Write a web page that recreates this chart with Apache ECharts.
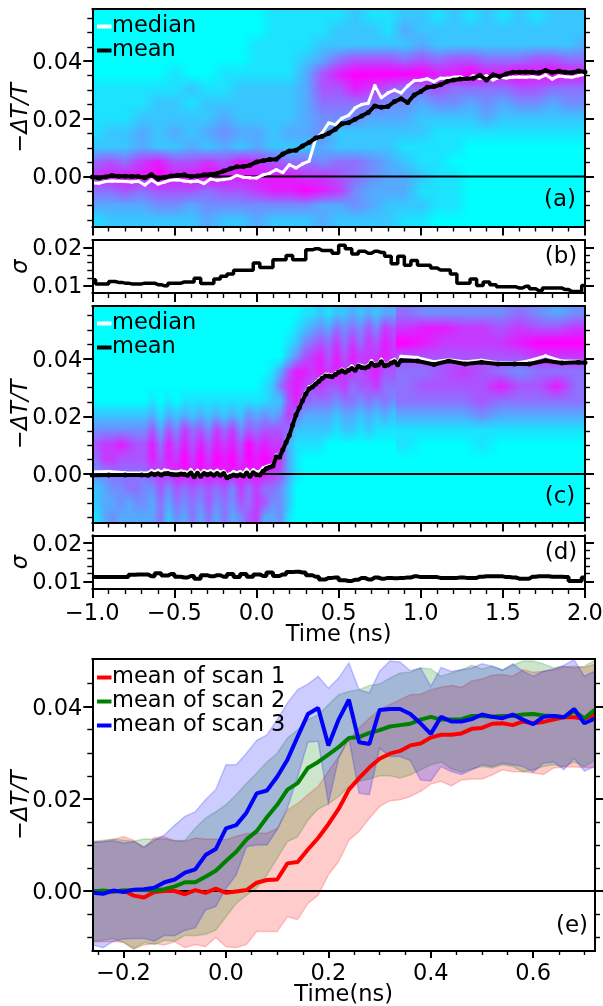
<!DOCTYPE html>
<html><head><meta charset="utf-8">
<style>html,body{margin:0;padding:0;background:#fff}#c{width:603px;height:1006px}</style>
<script src="https://cdn.jsdelivr.net/npm/echarts@6/dist/echarts.min.js"></script>
</head><body><div id="c"></div>
<script>
// ---- values (all ΔT/T and sigma values are in units of 1e-3) ----
const timeA=[-1,-.96,-.92,-.88,-.84,-.8,-.76,-.72,-.68,-.64,-.6,-.56,-.52,-.48,-.44,-.4,-.36,-.32,-.28,-.24,-.2,-.16,-.12,-.08,-.04,0,.04,.08,.12,.16,.2,.24,.28,.32,.36,.4,.44,.48,.52,.56,.6,.64,.68,.72,.76,.8,.84,.88,.92,.96,1,1.04,1.08,1.12,1.16,1.2,1.24,1.28,1.32,1.36,1.4,1.44,1.48,1.52,1.56,1.6,1.64,1.68,1.72,1.76,1.8,1.84,1.88,1.92,1.96,2];
const meanA=[-.1,-.5,-.1,.4,.1,.1,0,0,-.4,.7,-.8,-.2,.2,.5,.6,0,.2,.6,.8,1.1,1.9,2.7,3.4,3.5,3.9,5.1,5.5,5.9,6,7.8,8.9,9.1,10.6,11.8,13.4,14,15,16.4,18.3,18.7,19.9,21,22.2,24.5,24,24.3,26,27,25.7,28.3,29.5,31,31.2,31.8,33,33.5,33.8,33.9,34.1,35.1,33.5,35.3,34.7,35.6,36.2,36.2,36.3,36.2,36,36.8,36.1,36.5,36.2,36,36.6,36.3];
const medianA=[-2.2,-2.3,-1.7,-1.5,-1.6,-1.7,-1.9,-1.6,-2.9,-1.2,-2.6,-1.9,-1.2,-1.1,-1.5,-1.8,-1.5,-2.4,-.8,-1.3,-1,-.7,.4,-.2,-.4,-.5,.6,1.2,2.4,1.4,4.1,3,4.4,5.4,13,15.2,18.6,18,20.2,21.2,23.8,25,25.4,31.6,27.3,29,30,29,31.4,33.3,33.4,33.9,32.9,34.1,34.1,34.4,34.6,33.6,35,34,35,33.5,34.4,34.2,34.4,34.5,34.4,34.6,34.2,35.2,33.8,34.9,34.6,34.4,35,35.4];
const sigmaB=[11.5,10.4,10.4,11.05,10.8,10.6,10.4,10.4,10.6,10.6,10.2,9.9,10.6,10.6,10.9,10.9,11.9,10.5,10.5,11.7,12.4,13,14,14,14,15.9,14.75,14.75,16.8,16.8,17.9,16.8,16.8,19.4,19.7,19.2,19.2,18.5,20.6,19.7,18.3,19,18.5,19,18.7,17.7,15.7,17.7,15.3,16.6,15.3,15.3,14.6,14.1,14.1,13,10.6,10.6,11.7,10,10.9,10.2,9.65,9.65,9.65,9.3,9.8,9.1,8.6,9.3,9.3,9.3,8.9,8.4,8.4,10];
const sigmaD=[11.1,11.1,11.1,11.1,11.1,11.1,11.7,11.8,11.8,11.3,12.1,11.5,11.9,11.2,11,11.4,10.7,11.6,11.3,11.6,11.2,11.9,11.1,11.9,11.2,11.8,11.4,12.3,11.4,11.8,12.4,12.5,12.3,11.6,11.2,10.5,10.9,11,10.3,10.1,10.4,10.9,10.5,11,10.7,10.9,10.8,10.9,11,11.3,11.1,11.1,11.1,10.9,10.9,10.9,11,10.9,10.9,11.2,11.3,11.3,11.3,11.1,11,10.7,10.7,11.2,11.3,11.3,11.2,11.2,11.1,10.1,10.1,11];
const timeC=[-1,-.9,-.8,-.7,-.66,-.64,-.62,-.6,-.58,-.56,-.54,-.52,-.5,-.48,-.46,-.44,-.42,-.4,-.38,-.36,-.34,-.32,-.3,-.28,-.26,-.24,-.22,-.2,-.18,-.16,-.14,-.12,-.1,-.08,-.06,-.04,-.02,0,.02,.04,.06,.08,.1,.12,.14,.16,.18,.2,.22,.24,.26,.28,.3,.32,.34,.36,.38,.4,.42,.44,.46,.48,.5,.52,.54,.56,.58,.6,.62,.64,.66,.68,.7,.72,.74,.76,.78,.8,.82,.84,.86,.88,.98,1.08,1.17,1.27,1.37,1.47,1.57,1.66,1.76,1.86,1.96,2];
const meanC=[-.4,-.3,-.3,-.3,-.4,.1,-.2,.1,-.3,.1,.2,-.1,-.2,-.2,0,-.1,-.4,.4,-.9,.3,-.8,.2,-.2,.1,-.4,.2,-.4,.2,-1.3,-.8,-.3,-.6,-.2,-.7,.4,-.8,.5,-.2,-.3,1,1.9,2.4,2.8,6,5.8,8.4,11,13.5,17,20.5,23,25.5,27.8,29.6,30.2,31.2,32.2,33.2,34,34,33.8,34.5,35.3,35.8,35.3,36,36.6,36,37.5,37,36.8,37.2,38.4,37.7,37.8,39,37.6,37.8,38.5,39,37.9,39.4,39.2,38,39.2,38.2,38.8,38.2,38.2,38.2,39.3,38.5,38.8,38.7];
const medianC=[.7,.9,.5,.4,.4,1.2,.8,1.3,.7,1.4,1.2,.9,.7,.8,1.1,.9,.5,1.6,.2,1.3,.2,1.2,.8,1.2,.6,1.3,.6,1,-.3,.1,.9,.4,.9,.2,1.7,.2,1.5,.8,1,2.2,2.6,3,3.2,6.6,5.6,8.2,11.3,13.8,17.2,20.8,23.4,26,28.4,30.3,30.6,31.8,32.9,33.8,34.6,34.6,34.2,35,35.6,36.4,35.7,36.5,37.5,36.3,38,37.6,37.3,37.8,39.3,38,38.2,39.8,38,38.2,39.2,39.8,38.3,40.9,40.4,39,39.7,39,39.5,38.6,38.4,39.3,41,39.2,39.1,39];
const timeE=[-.26,-.24,-.22,-.2,-.18,-.16,-.14,-.12,-.1,-.08,-.06,-.04,-.02,0,.02,.04,.06,.08,.1,.12,.14,.16,.18,.2,.22,.24,.26,.28,.3,.32,.34,.36,.38,.4,.42,.44,.46,.48,.5,.52,.54,.56,.58,.6,.62,.64,.66,.68,.7,.72];
const scan1=[0,0,-.1,.1,-1,-1.4,-.2,0,0,-.7,.2,-.4,.5,-.4,-.1,.2,1.8,2.4,2.5,6,6.3,9,11.5,14.5,17.8,22,24.5,26.8,28.7,29.8,30.4,31.6,32,33.3,33.9,33.9,34.2,35.2,35.4,36.3,36.4,36,36.8,36.4,36.7,37.2,37.7,37.7,37.4,38.3];
const scan2=[-.1,.1,-.1,.1,.2,.2,.1,.4,1,1.9,1.9,3.1,4.4,6.5,8.5,11.2,13,16,18.7,22,23.4,26.7,28,29.6,31.2,33.2,33.4,34.3,34.9,35.7,36,36.3,37.2,37.8,37.2,37.2,37.3,38,38,37.8,38,38,38.3,38.4,38.1,38,37.7,39,37.5,39.3];
const scan3=[-.4,-.6,.1,-.2,.3,.4,.7,1.9,2.5,4,4.7,7.8,9.1,13.6,14.3,17,21.2,21.8,24.8,28.5,33.5,38.4,39.7,31.6,37.2,41.5,32.3,31.9,39.3,39.5,39.5,38.4,36.4,34.1,37.8,36.8,36.8,37.3,38.3,37.8,37.5,38.3,37.2,36.2,37.8,38,37.7,39.5,36.4,37.4];
const upper1=[10.6,10.8,11.2,11.8,11,9.3,11.6,11.7,10.9,10.8,11.5,11.3,11.3,11.1,11.9,12.5,12.5,12.6,13.5,17.6,19,20.9,22.7,26,29.2,32.8,35.4,37.5,39.3,40.5,41.5,42.6,42.7,43.7,44.2,44.6,44.2,45.6,46,46.8,47,46.6,48,47.5,47.7,48,48.6,48.8,48.5,49.2];
const lower1=[-11,-11,-11,-11.1,-12.5,-11.7,-11.4,-11.7,-11,-12.3,-11.6,-12.1,-10.1,-12.1,-12.3,-11.6,-8.8,-8.8,-8.8,-5.6,-6.2,-2.7,-.9,3.5,6.4,11,12.9,15.8,18.3,19.6,19.8,20.5,21.6,23.2,23.8,22.8,24.1,24.3,24.3,25.2,26.3,25.9,25.9,25.6,25.3,26.7,26.9,26.9,26.8,26.8];
const upper2=[10.8,11,11.3,11,10.8,11.3,11.3,11.3,10.9,11,13.6,15.8,17.2,18.7,20.9,23.4,25.6,28,29.9,33.2,35,37.2,38.2,40.4,42.6,43.3,43.7,44.6,44.9,46.2,47.3,47.5,48.4,48.2,46.6,47.3,48,49,48.2,48.8,48,49,49.9,49.9,49.3,48.4,48.8,48.4,48.8,50];
const lower2=[-11,-10.7,-10.3,-11.2,-12.6,-11.2,-11.6,-10.7,-10.9,-9.6,-9.7,-9.4,-8.5,-5.6,-2.7,-.9,.6,3.5,7.1,10.7,11.8,15.4,17.8,18.9,20.5,22.7,23.8,24.3,25,25,24.5,25.2,26.3,27.4,28,26.5,25.8,26.5,27,26.7,27.4,27,25.9,26.3,27,27.4,27,28,27,28.3];
const upper3=[10.6,10.7,10.9,10.4,10.7,9.6,11,12.2,14.3,16.2,17.2,19.8,22,27.4,27.4,29.9,32.7,33.9,37.2,40.8,43.7,44.9,46.6,44,46.2,49.5,43.7,43,47.7,49.9,49.7,47.8,48.4,44.4,48.5,47.7,48,48.4,49.3,48.8,47.9,49.3,47.7,46.6,47.7,48.2,49,50.2,46.6,47.7];
const lower3=[-11.7,-12.3,-10.9,-10.4,-10.3,-10.3,-10.9,-9.6,-9.7,-8.5,-8,-4.1,-3.4,.6,3.5,9.6,10,10,13.3,18,24.8,32.3,32.5,19,28.8,33.2,21.2,20.9,31,29.2,29.2,28.3,24.1,23.9,27,25.9,25.3,26.3,27.4,27,27.7,27.4,27,25.8,27.7,28,26.3,28.8,26,27];
// heat grids: level 0 (cyan) to 9 (magenta); rows top to bottom
const heatA=[
[0,0,0,0,0,0,0,0,0,0,0,1,1,1,1,1,2,1,1,2,2,1,2,1,2,1,2,1,2,2,2],
[0,0,0,0,0,0,0,0,0,0,0,1,1,1,1,2,2,2,1,3,2,2,2,2,2,2,2,2,2,2,2],
[0,0,0,0,0,0,0,0,0,0,1,1,1,1,2,2,2,2,2,2,3,2,2,2,2,2,2,2,2,2,3],
[0,0,0,0,0,0,0,0,0,0,1,1,1,2,3,5,6,6,6,5,6,5,6,6,5,5,5,6,6,5,5],
[0,0,0,0,0,1,0,0,1,1,1,1,1,3,6,8,9,9,9,9,9,8,8,9,8,8,9,8,9,8,8],
[1,1,1,1,1,1,2,1,1,2,2,2,2,3,6,6,8,7,6,5,5,6,5,5,5,5,6,6,5,5,5],
[1,1,1,1,2,2,1,2,2,2,2,2,2,3,5,5,5,5,4,4,3,4,4,3,4,3,4,4,3,4,4],
[1,1,1,2,2,2,2,2,3,2,2,2,2,3,4,4,4,3,3,3,2,2,2,2,3,2,2,2,2,2,2],
[1,2,2,3,2,3,2,3,4,3,3,2,3,3,4,2,2,2,2,2,2,1,1,1,1,1,1,1,1,1,1],
[2,2,2,3,2,2,3,2,3,2,3,2,2,2,3,2,2,2,2,1,1,1,1,0,0,0,0,0,0,0,0],
[5,6,5,7,8,6,6,7,6,8,7,6,5,5,4,5,5,4,3,2,1,1,0,0,0,0,0,0,0,0,0],
[7,8,8,8,9,8,8,9,8,8,8,8,8,7,7,6,5,4,3,3,2,1,1,0,0,0,0,0,0,0,0],
[5,5,6,5,6,6,6,5,6,6,7,8,8,9,8,7,4,3,3,3,1,1,1,0,0,0,0,0,0,0,0],
[3,3,3,3,4,4,3,4,4,4,4,4,4,4,3,3,4,3,2,2,2,1,1,0,0,0,0,0,0,0,0],
[1,2,2,2,2,2,2,3,2,2,3,2,2,2,3,2,2,2,2,1,1,0,0,0,0,0,0,0,0,0,0]];
const heatCLeft=[
[0,0,0,0,0,0,0,0,0,0,0,0,0,0,0,0,0,0,0,0,0,0,0,0,0,0,1,1,2,1,2,2,3,2,3,2,3,3],
[0,0,0,0,0,0,0,0,0,0,0,0,0,0,0,0,0,0,0,0,0,0,0,0,0,1,2,3,4,3,5,4,5,4,6,4,7,6],
[0,0,0,0,0,0,0,0,0,0,0,0,0,0,0,0,0,0,0,0,0,0,0,0,1,2,4,5,6,5,7,5,7,5,7,6,8,7],
[0,0,0,0,0,0,0,0,0,0,0,0,0,0,0,0,0,0,0,0,0,0,0,0,2,4,6,7,8,6,8,6,8,7,7,7,8,7],
[0,0,0,0,0,0,0,0,0,0,0,0,0,0,0,0,0,0,0,0,0,0,1,3,6,8,8,7,8,7,8,7,7,6,7,8,6,6],
[0,0,0,0,0,0,0,0,0,0,0,0,0,0,0,0,0,0,0,0,0,1,2,5,7,8,7,6,7,6,6,7,5,6,6,7,5,5],
[0,0,0,0,0,0,0,1,0,1,0,1,1,1,1,1,1,1,1,1,1,1,2,2,6,8,6,5,5,5,4,5,5,4,5,4,5,4],
[2,2,2,2,2,2,2,3,1,3,2,3,2,3,2,3,2,3,2,4,3,4,3,4,7,5,3,3,3,3,2,3,3,2,3,2,3,2],
[4,4,4,4,4,4,4,6,3,6,4,7,5,6,4,7,5,7,4,6,5,6,6,6,5,2,2,2,2,2,1,2,2,1,2,1,1,1],
[6,7,7,8,7,6,6,8,5,8,6,8,6,8,6,8,7,8,6,9,7,8,7,7,3,1,1,1,1,0,0,0,0,0,0,0,0,0],
[5,7,7,6,6,6,6,8,6,8,7,9,7,9,7,9,8,9,7,9,8,9,8,7,3,1,0,0,0,0,0,0,0,0,0,0,0,0],
[4,4,5,5,5,5,5,6,7,7,8,8,8,8,8,8,8,8,8,8,8,8,7,6,3,1,0,0,0,0,0,0,0,0,0,0,0,0],
[2,3,4,4,5,5,4,4,6,4,6,5,6,5,6,5,6,4,7,5,7,5,5,4,2,0,0,0,0,0,0,0,0,0,0,0,0,0],
[2,3,3,4,3,4,4,3,5,3,5,4,5,4,6,4,5,4,6,5,7,6,4,4,2,0,0,0,0,0,0,0,0,0,0,0,0,0],
[1,3,4,3,3,3,3,3,5,2,4,3,5,3,5,3,5,3,4,6,7,3,3,4,1,0,0,0,0,0,0,0,0,0,0,0,0,0]];
const heatCRight=[
[5,4,4,4,4,4,5,4,3,4],
[7,8,8,7,7,6,7,6,6,7],
[9,8,7,7,7,7,8,9,9,9],
[6,6,6,6,6,6,6,7,7,7],
[5,5,6,7,6,5,4,5,5,5],
[5,6,6,6,6,8,6,6,8,5],
[5,5,5,5,6,5,5,5,5,5],
[3,3,3,3,4,3,3,3,3,3],
[1,1,1,1,1,1,1,1,1,1],
[1,0,0,0,1,0,0,0,0,0],
[0,0,0,0,0,0,0,0,0,0],
[0,0,0,0,0,0,0,0,0,0],
[0,0,0,0,0,0,0,0,0,0],
[0,0,0,0,0,0,0,0,0,0],
[0,0,0,0,0,0,0,0,0,0]];
const heatRangeY=[-.0175,.0585];
const xTicksTop=[-1,-.5,0,.5,1,1.5,2];
const xMinorTop=[-.9,-.8,-.7,-.6,-.4,-.3,-.2,-.1,.1,.2,.3,.4,.6,.7,.8,.9,1.1,1.2,1.3,1.4,1.6,1.7,1.8,1.9];
const xTicksE=[-.2,0,.2,.4,.6];
const xMinorE=[-.25,-.15,-.1,-.05,.05,.1,.15,.25,.3,.35,.45,.5,.55,.65,.7];
const yTicksHeat=[0,.02,.04];
const yMinorHeat=[-.015,-.01,-.005,.005,.01,.015,.025,.03,.035,.045,.05,.055];
const yTicksSigma=[.01,.02];
const yMinorSigma=[.012,.014,.016,.018];
const yTicksE=[0,.02,.04];
const yMinorE=[-.01,-.005,.005,.01,.015,.025,.03,.035,.045];

// ---- helpers ----
const FONT='DejaVu Sans',FS=22.5;
const pairs=(x,y)=>x.map((t,i)=>[t,y[i]*1e-3]);
const fmtNum=(n,d)=>v=>(v<-1e-9?'\u2212':'')+Math.abs(v).toFixed(d);
function heatCanvas(rows){
  const h=rows.length,w=rows[0].length,cv=document.createElement('canvas');
  cv.width=w;cv.height=h;const ctx=cv.getContext('2d'),im=ctx.createImageData(w,h);
  rows.forEach((r,j)=>r.forEach((v,i)=>{const t=v/9,k=4*(j*w+i);
    im.data[k]=255*t;im.data[k+1]=255*(1-t);im.data[k+2]=255;im.data[k+3]=255;}));
  ctx.putImageData(im,0,0);return cv;
}
const grid=[],xAxis=[],yAxis=[],series=[];
function panel(r,xr,yr,xT,xM,yT,yM,opt){
  const g=grid.length;grid.push({left:r[0],top:r[1],width:r[2]-r[0],height:r[3]-r[1],containLabel:false,outerBoundsMode:'none'});
  const xi=xAxis.length,yi=yAxis.length;
  const hidden={axisLine:{show:false,onZero:false},axisTick:{show:false},axisLabel:{show:false}};
  const baseX={type:'value',gridIndex:g,min:xr[0],max:xr[1],z:10,splitLine:{show:false},...hidden};
  const spine={show:true,onZero:false,lineStyle:{color:'#000',width:2}};
  xAxis.push({...baseX,position:'bottom',axisLine:spine,
    axisTick:{show:true,customValues:xT,length:opt.xMajLen||9,lineStyle:{color:'#000',width:2}},
    axisLabel:{show:!!opt.xFmt,customValues:xT,formatter:opt.xFmt,margin:opt.xMargin||14,fontSize:FS,fontFamily:FONT,color:'#000'},
    name:opt.xName||'',nameLocation:'middle',nameGap:opt.xNameGap||42,nameMoveOverlap:false,nameTextStyle:{fontSize:FS,fontFamily:FONT,color:'#000'}});
  xAxis.push({...baseX,position:'bottom',axisTick:{show:true,customValues:xM,length:opt.xMinLen||5,lineStyle:{color:'#000',width:1.4}}});
  xAxis.push({...baseX,position:'top',axisLine:spine});
  const baseY={type:'value',gridIndex:g,min:yr[0],max:yr[1],z:10,splitLine:{show:false},...hidden};
  yAxis.push({...baseY,position:'left',axisLine:spine,
    axisTick:{show:true,customValues:yT,length:9,lineStyle:{color:'#000',width:2}},
    axisLabel:{show:true,customValues:yT,formatter:v=>'{n|'+opt.yFmt(v)+'}',margin:10,rich:{n:{fontSize:FS,fontFamily:FONT,color:'#000',padding:[4,0,0,0]}}},
    name:opt.yName,nameLocation:'middle',nameGap:opt.yGap,nameRotate:90,nameMoveOverlap:false,
    nameTextStyle:{fontSize:FS,fontFamily:FONT,color:'#000',rich:{m:{fontSize:FS,fontFamily:FONT,color:'#000'},i:{fontSize:FS,fontFamily:FONT,fontStyle:'italic',color:'#000'}}}});
  yAxis.push({...baseY,position:'left',axisTick:{show:true,customValues:yM,length:5,lineStyle:{color:'#000',width:1.4}}});
  yAxis.push({...baseY,position:'right',axisLine:spine,
    axisTick:{show:true,customValues:yT,length:9,lineStyle:{color:'#000',width:2}}});
  yAxis.push({...baseY,position:'right',axisTick:{show:true,customValues:yM,length:5,lineStyle:{color:'#000',width:1.4}}});
  return {xi,yi};
}
function heatSeries(ax,rows,x0,x1){
  const cv=heatCanvas(rows);
  series.push({type:'custom',xAxisIndex:ax.xi,yAxisIndex:ax.yi,clip:true,silent:true,z:1,
    data:[[x0,x1,heatRangeY[0],heatRangeY[1]]],encode:{x:[0,1],y:[2,3]},
    renderItem:(p,api)=>{const a=api.coord([api.value(0),api.value(3)]),b=api.coord([api.value(1),api.value(2)]);
      return {type:'image',style:{image:cv,x:a[0],y:a[1],width:b[0]-a[0],height:b[1]-a[1]}};}});
}
function zeroLine(ax,xr){
  series.push({type:'line',name:'zero',xAxisIndex:ax.xi,yAxisIndex:ax.yi,data:[[xr[0],0],[xr[1],0]],showSymbol:false,symbol:'none',silent:true,z:3,
    lineStyle:{color:'#000',width:2}});
}
function lineSeries(ax,name,data,color,w,ss,z){
  series.push({type:'line',name,xAxisIndex:ax.xi,yAxisIndex:ax.yi,data,color,z:z||4,silent:true,
    symbol:ss?'circle':'none',symbolSize:ss||0,showSymbol:!!ss,itemStyle:{color},lineStyle:{color,width:w}});
}
function bandSeries(ax,lo,up,rgb){
  const rows=timeE.map((t,i)=>[t,lo[i]*1e-3,up[i]*1e-3]);
  series.push({type:'custom',xAxisIndex:ax.xi,yAxisIndex:ax.yi,clip:true,silent:true,z:2,data:rows,encode:{x:0,y:[1,2]},
    renderItem:(p,api)=>{
      if(p.dataIndex!==0)return null;
      const pts=rows.map(r=>api.coord([r[0],r[2]])).concat(rows.slice().reverse().map(r=>api.coord([r[0],r[1]])));
      return {type:'polygon',shape:{points:pts},style:{fill:`rgba(${rgb},0.2)`,stroke:`rgba(${rgb},0.2)`,lineWidth:1.5}};
    }});
}
function sigmaSeries(ax,name,values,w){
  series.push({type:'line',name,xAxisIndex:ax.xi,yAxisIndex:ax.yi,data:pairs(timeA,values),step:'middle',showSymbol:false,symbol:'none',silent:true,lineStyle:{color:'#000',width:w}});
}

// ---- panels ----
const DT='{m|\u2212}{i|\u0394T/T}';
const xr=[-1,2];
const pa=panel([92.3,9,585,226.5],xr,[-.0173,.0581],xTicksTop,xMinorTop,yTicksHeat,yMinorHeat,{yFmt:fmtNum(0,2),yName:DT,yGap:60});
heatSeries(pa,heatA,-1.05,2.05);zeroLine(pa,xr);
lineSeries(pa,'median',pairs(timeA,medianA),'#fff',3,3.5,4);
lineSeries(pa,'mean',pairs(timeA,meanA),'#000',4,5,5);
const pb=panel([92.3,240,585,293],xr,[.008,.022],xTicksTop,xMinorTop,yTicksSigma,yMinorSigma,{yFmt:fmtNum(0,2),yName:'{i|\u03c3}',yGap:60});
sigmaSeries(pb,'sigma b',sigmaB,3.5);
const pc=panel([92.3,306,585,522.5],xr,[-.0168,.0583],xTicksTop,xMinorTop,yTicksHeat,yMinorHeat,{yFmt:fmtNum(0,2),yName:DT,yGap:60});
heatSeries(pc,heatCLeft,-1,.85);heatSeries(pc,heatCRight,.85,2);zeroLine(pc,xr);
lineSeries(pc,'median',pairs(timeC,medianC),'#fff',3,3.5,4);
lineSeries(pc,'mean',pairs(timeC,meanC),'#000',4,5,5);
const pd=panel([92.3,535.3,585,589],xr,[.008,.022],xTicksTop,xMinorTop,yTicksSigma,yMinorSigma,
  {yFmt:fmtNum(0,2),yName:'{i|\u03c3}',yGap:60,xFmt:fmtNum(0,1),xName:'Time (ns)',xNameGap:35});
sigmaSeries(pd,'sigma d',sigmaD,4);
const xrE=[-.2611,.7207];
const pe=panel([92.3,659,595,951],xrE,[-.01302,.05035],xTicksE,xMinorE,yTicksE,yMinorE,
  {yFmt:fmtNum(0,2),yName:DT,yGap:60,xFmt:fmtNum(0,1),xName:'Time(ns)',xNameGap:33,xMajLen:7,xMinLen:4,xMargin:12});
bandSeries(pe,lower1,upper1,'255,0,0');bandSeries(pe,lower2,upper2,'0,128,0');bandSeries(pe,lower3,upper3,'0,0,255');
zeroLine(pe,xrE);
lineSeries(pe,'mean of scan 1',pairs(timeE,scan1),'#ff0000',4,0,4);
lineSeries(pe,'mean of scan 2',pairs(timeE,scan2),'#008000',4,0,5);
lineSeries(pe,'mean of scan 3',pairs(timeE,scan3),'#0000ff',4,0,6);

const legText={fontSize:FS,fontFamily:FONT,color:'#000',padding:[0,0,0,-4.5]};
const legBase={orient:'vertical',left:97,padding:0,itemGap:1,itemWidth:14.5,itemHeight:4,icon:'rect',selectedMode:false,textStyle:legText};
const panelText=(t,x,y)=>({type:'text',x,y,z:20,style:{text:t,fontSize:23,fontFamily:FONT,fill:'#000',align:'center',verticalAlign:'middle'}});
const option={animation:false,backgroundColor:'#fff',grid,xAxis,yAxis,series,
  legend:[{...legBase,top:15,data:['median','mean']},{...legBase,top:312,data:['median','mean']},
          {...legBase,top:666,data:['mean of scan 1','mean of scan 2','mean of scan 3']}],
  graphic:[panelText('(a)',560,200),panelText('(b)',561,257),panelText('(c)',560,497),panelText('(d)',561,553),panelText('(e)',572,926)]};
echarts.init(document.getElementById('c'),null,{renderer:'canvas'}).setOption(option);
</script></body></html>
